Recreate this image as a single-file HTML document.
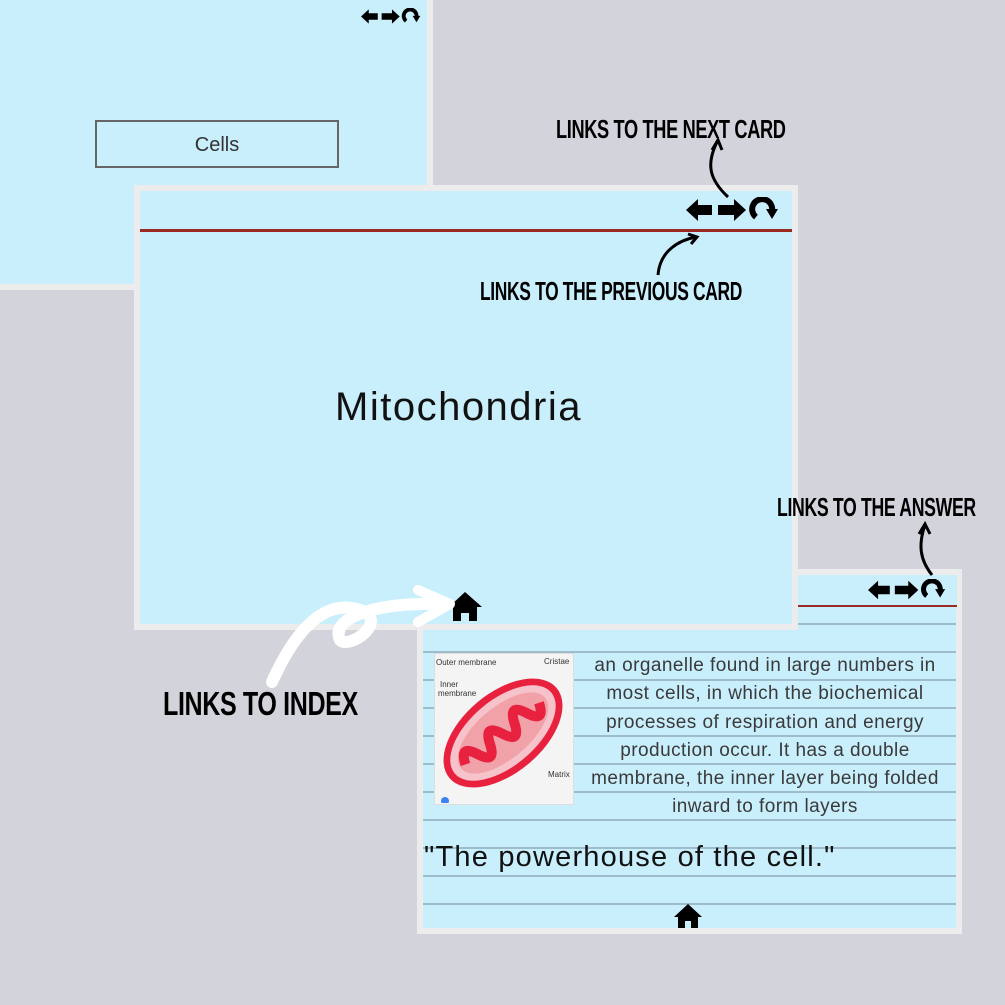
<!DOCTYPE html>
<html><head><meta charset="utf-8"><style>
body{margin:0;width:1005px;height:1005px;background:#d3d3db;position:relative;overflow:hidden;font-family:"Liberation Sans",sans-serif}
.card{position:absolute;background:#c9eefc;border:6px solid #ececec;box-sizing:border-box}
.lbl{position:absolute;font-family:"Liberation Sans Narrow","Liberation Sans",sans-serif;font-weight:bold;color:#000;white-space:nowrap;letter-spacing:-0.5px;transform-origin:left top}
.txt{position:absolute;color:#222;white-space:nowrap}
</style></head><body>
<svg width="0" height="0" style="position:absolute"><defs>
<g id="ic">
<path d="M0 13 L12 2 L12 8 L26 8 L26 18 L12 18 L12 24 Z" fill="#000"/>
<path d="M60 13 L48 2 L48 8 L32 8 L32 18 L48 18 L48 24 Z" fill="#000"/>
<path d="M70 20 A10 10 0 1 1 86 14" stroke="#000" stroke-width="6" fill="none"/>
<path d="M80 12 L92 12 L86 22 Z" fill="#000"/>
</g></defs></svg>

<div class="card" style="left:-6px;top:-6px;width:439px;height:296px"></div>
<div style="position:absolute;left:95px;top:120px;width:244px;height:48px;border:2px solid #666;box-sizing:border-box;text-align:center;line-height:46px;font-size:20px;color:#333">Cells</div>
<svg style="position:absolute;left:361px;top:8px" width="60" height="17" viewBox="0 0 93 26"><use href="#ic"/></svg>

<!-- card3 -->
<div class="card" style="left:417px;top:569px;width:545px;height:365px;background:repeating-linear-gradient(to bottom,#c9eefc 0,#c9eefc 26px,#9fbccb 26px,#9fbccb 28px);background-position:0 -6px"></div>
<div style="position:absolute;left:798px;top:575px;width:159px;height:30px;background:#c9eefc"></div>
<div style="position:absolute;left:798px;top:605px;width:159px;height:2px;background:#9b2a22"></div>
<svg style="position:absolute;left:868px;top:579px" width="78" height="22" viewBox="0 0 93 26"><use href="#ic"/></svg>

<!-- image -->
<div style="position:absolute;left:434px;top:653px;width:138px;height:150px;background:#f4f4f4;border:1px solid #ddd"></div>
<svg style="position:absolute;left:434px;top:653px" width="138" height="150">
<g transform="rotate(-40 69 80)">
<ellipse cx="69" cy="80" rx="70" ry="40" fill="#e8213f"/>
<ellipse cx="69" cy="80" rx="63" ry="33" fill="#f7c3cb"/>
<ellipse cx="69" cy="80" rx="55" ry="26" fill="#f0a2a8"/>
<path d="M20 80 q8 -20 16 0 q8 20 16 0 q8 -20 16 0 q8 20 16 0 q8 -20 16 0 q8 20 16 0" stroke="#e8213f" stroke-width="10" fill="none"/>
</g>
<text x="2" y="12" font-size="8" fill="#333">Outer membrane</text>
<text x="6" y="34" font-size="8" fill="#333">Inner</text>
<text x="4" y="43" font-size="8" fill="#333">membrane</text>
<text x="110" y="11" font-size="8" fill="#333">Cristae</text>
<text x="114" y="124" font-size="8" fill="#333">Matrix</text>
<circle cx="11" cy="148" r="4" fill="#3b82f6"/>
</svg>
<div class="txt" style="left:570px;top:652px;width:390px;text-align:center;font-size:19px;line-height:28.3px;letter-spacing:0.45px;color:#3a3a3a">an organelle found in large numbers in<br>most cells, in which the biochemical<br>processes of respiration and energy<br>production occur. It has a double<br>membrane, the inner layer being folded<br>inward to form layers</div>
<div class="txt" style="left:424px;top:841px;font-size:29px;letter-spacing:1.2px;color:#111">"The powerhouse of the cell."</div>
<svg style="position:absolute;left:674px;top:903px" width="30" height="26"><path d="M14 1 L28 14 L24 14 L24 25 L17 25 L17 18 L11 18 L11 25 L4 25 L4 14 L0 14 Z" fill="#000"/></svg>

<!-- card2 -->
<div class="card" style="left:134px;top:185px;width:664px;height:445px"></div>
<div style="position:absolute;left:140px;top:229px;width:652px;height:3px;background:#9b2a22"></div>
<svg style="position:absolute;left:686px;top:197px" width="93" height="26" viewBox="0 0 93 26"><use href="#ic"/></svg>
<div class="txt" style="left:335px;top:385px;font-size:40px;letter-spacing:1.5px;color:#111">Mitochondria</div>
<svg style="position:absolute;left:449px;top:591px" width="34" height="30"><path d="M16 1 L33 16 L28 16 L28 30 L20 30 L20 22 L12 22 L12 30 L4 30 L4 16 L0 16 Z" fill="#000"/></svg>

<!-- arrows -->
<svg style="position:absolute;left:0;top:0" width="1005" height="1005">
<path d="M272 682 C300 620 330 600 360 610 C390 620 350 650 340 640 C330 620 370 602 440 604" stroke="#fff" stroke-width="12" fill="none" stroke-linecap="round"/>
<path d="M418 590 L450 604 L418 622" stroke="#fff" stroke-width="10" fill="none" stroke-linecap="round" stroke-linejoin="round"/>
<path d="M728 197 C710 180 705 165 718 140" stroke="#000" stroke-width="3" fill="none"/>
<path d="M712 150 L718 140 L722 150" stroke="#000" stroke-width="3" fill="none"/>
<path d="M658 275 C660 250 680 240 696 237" stroke="#000" stroke-width="3" fill="none"/>
<path d="M688 234 L697 237 L691 244" stroke="#000" stroke-width="3" fill="none"/>
<path d="M932 575 C920 560 918 545 925 525" stroke="#000" stroke-width="3" fill="none"/>
<path d="M919 534 L925 524 L930 534" stroke="#000" stroke-width="3" fill="none"/>
</svg>

<div class="lbl" style="left:556px;top:114px;font-size:26px;transform:scaleX(0.7)">LINKS TO THE NEXT CARD</div>
<div class="lbl" style="left:480px;top:276px;font-size:26px;transform:scaleX(0.67)">LINKS TO THE PREVIOUS CARD</div>
<div class="lbl" style="left:777px;top:492px;font-size:26px;transform:scaleX(0.68)">LINKS TO THE ANSWER</div>
<div class="lbl" style="left:163px;top:685px;font-size:33px;transform:scaleX(0.76)">LINKS TO INDEX</div>
</body></html>
